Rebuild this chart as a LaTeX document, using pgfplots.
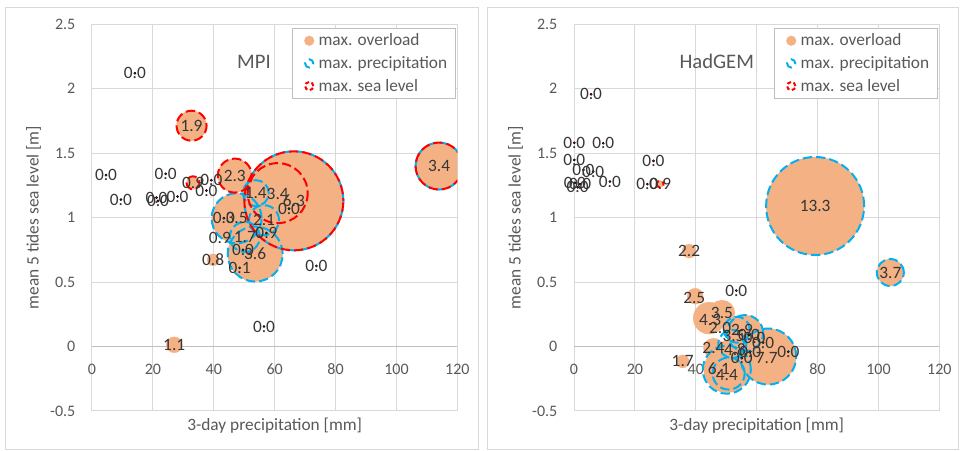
\documentclass[border=0pt]{standalone}
\usepackage{pgfplots}
\pgfplotsset{compat=1.18}
\usepackage{fontspec}
\setmainfont{Carlito}
\definecolor{obub}{HTML}{F4B183}
\definecolor{bbub}{HTML}{00B0F0}
\definecolor{rbub}{HTML}{FF0000}
\definecolor{gridc}{HTML}{D9D9D9}
\definecolor{axc}{HTML}{BFBFBF}
\definecolor{txt}{HTML}{595959}
\definecolor{lab}{HTML}{363636}

\pgfplotsset{
  sizebub/.style={visualization depends on={0.375*\thisrow{d} \as \rr},
    scatter/@pre marker code/.append style={/tikz/mark size=\rr}},
  fillbub/.style={scatter, only marks, forget plot, mark=*, color=obub,
     scatter/use mapped color={draw=obub, fill=obub, line width=0.1pt}, sizebub},
  bluebub/.style={scatter, only marks, forget plot, mark=o,
     scatter/use mapped color={draw=bbub, fill=none, line width=1.5pt, dash pattern=on 7pt off 3pt}, sizebub},
  redbub/.style={scatter, only marks, forget plot, mark=o,
     scatter/use mapped color={draw=rbub, fill=none, line width=1.5pt, dash pattern=on 7pt off 3pt, dash phase=5pt}, sizebub},
  bdot/.style={only marks, forget plot, mark=*, mark size=0.8pt, mark options={draw=none, fill=bbub}},
  rdot/.style={only marks, forget plot, mark=*, mark size=0.8pt, mark options={draw=none, fill=rbub}},
  labs/.style={only marks, mark=none, forget plot, nodes near coords, point meta=explicit symbolic,
     every node near coord/.append style={anchor=center, font=\fontsize{13}{15}\selectfont, text=lab, inner sep=0pt}},
  geom/.style={scale only axis, width=274pt, height=290pt,
    xmin=0, xmax=120, ymin=-0.5, ymax=2.5},
  ovl/.style={geom, hide axis, clip=false},
  panel/.style={geom,
    xtick={0,20,...,120}, ytick={-0.5,0,0.5,1,1.5,2,2.5},
    grid=major, grid style={draw=gridc, line width=0.75pt},
    axis x line*=middle, axis y line*=left,
    x axis line style={draw=axc, line width=0.75pt, -},
    y axis line style={draw=none, -},
    hide obscured x ticks=false, hide obscured y ticks=false,
    tick style={draw=none},
    tick label style={font=\fontsize{12}{14}\selectfont, text=txt},
    /pgf/number format/assume math mode=true,
    xticklabel style={yshift=-9.5pt},
    yticklabel style={xshift=-9pt},
    xlabel={3-day precipitation [mm]}, ylabel={mean 5 tides sea level [m]},
    label style={font=\fontsize{13}{15}\selectfont, text=txt},
    xlabel style={at={(axis description cs:0.5,-0.038)}, anchor=center},
    ylabel style={at={(axis description cs:-0.16,0.5)}, anchor=center},
    clip marker paths=true,
    legend style={at={(rel axis cs:0.995,0.99)}, anchor=north east, draw=axc, fill=white,
      font=\fontsize{13}{15}\selectfont, text=txt, row sep=4.5pt, inner xsep=3pt, inner ysep=3pt,
      cells={anchor=west}, nodes={inner ysep=1pt, inner xsep=3pt}},
  },
  leg1/.style={legend image code/.code={\path[draw=none,fill=none] (0pt,-1pt) rectangle (14pt,1pt); \fill[obub,draw=none] (10pt,0pt) circle (3.8pt);}},
  leg2/.style={legend image code/.code={\path[draw=none,fill=none] (0pt,-1pt) rectangle (14pt,1pt); \draw[bbub, fill=none, line width=1.5pt, dash pattern=on 6pt off 3.7pt, dash phase=1pt] (10pt,0pt) circle (3.1pt);}},
  leg3/.style={legend image code/.code={\path[draw=none,fill=none] (0pt,-1pt) rectangle (14pt,1pt); \draw[rbub, fill=none, line width=1.5pt, dash pattern=on 3pt off 1.9pt] (10pt,0pt) circle (3.1pt);}},
}

\begin{document}
\begin{tikzpicture}
\useasboundingbox (0,0) rectangle (720pt,-337.5pt);
\fill[white] (0,0) rectangle (720pt,-337.5pt);
\draw[gridc, line width=0.75pt] (3.75pt,-5.25pt) rectangle (358.5pt,-336.8pt);
\draw[gridc, line width=0.75pt] (365.25pt,-5.25pt) rectangle (718.5pt,-336.8pt);

% ---------------- MPI ----------------
\begin{axis}[panel, at={(69pt,-18.2pt)}, anchor=north west]
\addlegendimage{leg1}\addlegendentry{max. overload}
\addlegendimage{leg2}\addlegendentry{max. precipitation}
\addlegendimage{leg3}\addlegendentry{max. sea level}
\addplot[fillbub] table[x=x,y=y] {
x y d
32.7 1.713 30
33.2 1.27 13
46.9 1.326 34
66.3 1.13 99
61.0 1.19 40
53.8 1.19 26
47.5 0.995 50
56.5 0.98 30
50.2 0.85 30
53.6 0.717 55
39.8 0.672 12
27.0 0.013 16
114.0 1.40 47
};
\addplot[bluebub] table[x=x,y=y] {
x y d
66.3 1.13 99
114.0 1.40 47
53.8 1.19 26
47.5 0.995 50
56.5 0.98 30
50.2 0.85 30
53.6 0.717 55
};
\addplot[redbub] table[x=x,y=y] {
x y d
32.7 1.713 30
33.2 1.27 13
46.9 1.326 34
66.3 1.13 99
61.0 1.19 60
114.0 1.40 47
};
\node[font=\fontsize{15.5}{18}\selectfont, text=txt] at (axis cs:53.2,2.21) {MPI};
\end{axis}
\begin{axis}[ovl, at={(69pt,-18.2pt)}, anchor=north west]
\addplot[bdot] table {
x y
64.7 1.07
43.3 0.995
49.6 0.75
48.5 0.61
73.7 0.625
56.5 0.155
57.3 0.88
};
\addplot[rdot] table {
x y
14.1 2.12
4.6 1.33
9.5 1.14
24.2 1.34
21.2 1.155
21.7 1.13
28.1 1.163
39.2 1.29
37.6 1.21
};
\addplot[labs] table[x=x,y=y,meta=t] {
x y t
14.1 2.12 0.0
32.7 1.713 1.9
4.6 1.33 0.0
9.5 1.14 0.0
24.2 1.34 0.0
21.2 1.155 0.0
21.7 1.13 0.0
28.1 1.163 0.0
33.2 1.27 0.9
39.2 1.29 0.0
37.6 1.21 0.0
46.9 1.326 2.3
53.8 1.19 1.4
61.0 1.18 3.4
66.3 1.13 6.3
64.7 1.07 0.0
43.3 0.995 0.0
47.5 0.995 3.5
56.5 0.98 2.1
57.3 0.88 0.9
42.0 0.84 0.9
50.2 0.85 1.7
49.6 0.75 0.0
53.6 0.717 3.6
48.5 0.61 0.1
39.8 0.672 0.8
73.7 0.625 0.0
56.5 0.155 0.0
27.0 0.013 1.1
114.0 1.40 3.4
};
\end{axis}

% ---------------- HadGEM ----------------
\begin{axis}[panel, at={(430.5pt,-18.2pt)}, anchor=north west]
\addlegendimage{leg1}\addlegendentry{max. overload}
\addlegendimage{leg2}\addlegendentry{max. precipitation}
\addlegendimage{leg3}\addlegendentry{max. sea level}
\addplot[fillbub] table[x=x,y=y] {
x y d
37.8 0.74 14
79.2 1.09 98
103.9 0.574 27
39.8 0.39 16
44.4 0.22 32
48.6 0.259 26
56.2 0.104 36
53.5 0.13 26
63.8 -0.078 56
50.2 -0.18 46
45.8 -0.013 20
50.7 -0.026 20
35.7 -0.116 13
28.3 1.26 7
};
\addplot[bluebub] table[x=x,y=y] {
x y d
79.2 1.09 98
103.9 0.574 27
56.2 0.104 36
53.5 0.13 26
63.8 -0.078 56
50.2 -0.18 48
50.8 -0.21 32
52.0 0.02 28
};
\addplot[redbub] table[x=x,y=y] {
x y d
28.3 1.26 7
};
\node[font=\fontsize{15.5}{18}\selectfont, text=txt] at (axis cs:46.9,2.21) {HadGEM};
\end{axis}
\begin{axis}[ovl, at={(430.5pt,-18.2pt)}, anchor=north west]
\addplot[bdot] table {
x y
53.3 0.434
70.4 -0.04
62.1 0.03
55.1 -0.09
57.9 -0.04
57.5 0.09
};
\addplot[rdot] table {
x y
5.6 1.957
0.1 1.58
9.6 1.577
0.1 1.447
3.1 1.37
6.3 1.357
0.3 1.27
2.0 1.26
1.2 1.235
11.8 1.28
26.1 1.44
24.1 1.26
};
\addplot[labs] table[x=x,y=y,meta=t] {
x y t
5.6 1.957 0.0
0.1 1.58 0.0
9.6 1.577 0.0
0.1 1.447 0.0
3.1 1.37 0.0
6.3 1.357 0.0
0.3 1.27 0.0
2.0 1.26 0.0
1.2 1.235 0.0
11.8 1.28 0.0
26.1 1.44 0.0
24.1 1.26 0.0
28.3 1.26 0.9
37.8 0.74 2.2
79.2 1.09 13.3
103.9 0.574 3.7
53.3 0.434 0.0
39.5 0.375 2.5
44.7 0.207 4.3
48.6 0.259 3.5
48.0 0.143 2.0
55.2 0.13 2.9
52.4 0.08 3.5
57.5 0.09 0.0
59.3 0.07 0.0
62.1 0.03 0.0
45.8 -0.013 2.4
52.9 -0.026 4.8
57.9 -0.04 0.0
55.1 -0.09 0.0
63.3 -0.09 7.7
70.4 -0.04 0.0
47.6 -0.17 6.1
50.2 -0.22 4.4
35.7 -0.116 1.7
};
\end{axis}
\end{tikzpicture}
\end{document}
